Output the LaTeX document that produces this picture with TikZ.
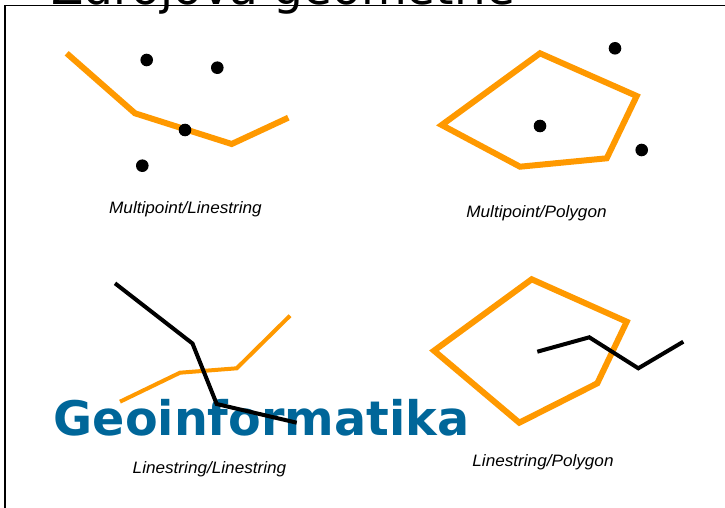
\documentclass[tikz,border=0pt]{standalone}
\usepackage{fontspec}
\setmainfont{DejaVu Sans}
\newfontfamily\labelfont{Liberation Sans}
\definecolor{geoorange}{HTML}{FF9900}
\definecolor{geoblue}{HTML}{006699}
\begin{document}
\begin{tikzpicture}[x=1pt,y=-1pt,
  frameline/.style={draw=black,line width=1.6pt},
  orangethick/.style={draw=geoorange,line width=6pt},
  orangethin/.style={draw=geoorange,line width=4pt},
  blackline/.style={draw=black,line width=4pt},
  dotmark/.style={fill=black},
  caption/.style={anchor=base,inner sep=0pt,font=\labelfont\itshape\fontsize{16.5}{18}\selectfont,xscale=1.04},
  titletext/.style={anchor=base west,inner sep=0pt,font=\fontsize{47}{50}\selectfont},
  brandtext/.style={anchor=base west,inner sep=0pt,text=geoblue,font=\bfseries\fontsize{47.6}{50}\selectfont}]
\useasboundingbox (0,0) rectangle (725,508);
\begin{scope}
\clip (0,0) rectangle (725,508);
% frame
\draw[frameline] (5,508) -- (5,5.5) -- (726,5.5);
% cut-off title
\node[titletext] (title) at (51,5) {Zdrojová geometrie};
% brand
\node[brandtext] (brand) at (53.5,435) {Geoinformatika};

% Panel 1: Multipoint/Linestring
\draw[orangethick] (66.7,53.3) -- (135,113.3) -- (231.7,144) -- (288.3,117.7);
\foreach \p in {(146.7,60),(217.3,67.7),(185,130),(142.3,165.7)}
  \fill[dotmark] \p circle (6.3);
\node[caption] (cap1) at (185.5,213) {Multipoint/Linestring};

% Panel 2: Multipoint/Polygon
\draw[orangethick] (540,53.3) -- (636.7,96) -- (606.7,158.3) -- (520,166.7) -- (441.7,125) -- cycle;
\foreach \p in {(615,48.3),(540,126),(641.7,150)}
  \fill[dotmark] \p circle (6.3);
\node[caption] (cap2) at (536.5,217) {Multipoint/Polygon};

% Panel 3: Linestring/Linestring
\draw[orangethin] (120,401.7) -- (180,372.7) -- (236.7,368.3) -- (290,315.7);
\draw[blackline] (115,283.3) -- (192.5,343.5) -- (216.7,404) -- (296.7,422.7);
\node[caption] (cap3) at (209.5,473) {Linestring/Linestring};

% Panel 4: Linestring/Polygon
\draw[orangethick] (531.7,279.3) -- (626.7,321.7) -- (597.3,383.3) -- (519.3,422.7) -- (434,350.7) -- cycle;
\draw[blackline] (537.3,351.7) -- (589.3,337.3) -- (638.3,368.3) -- (683.3,341.7);
\node[caption] (cap4) at (543,466) {Linestring/Polygon};
\end{scope}
\end{tikzpicture}
\end{document}
